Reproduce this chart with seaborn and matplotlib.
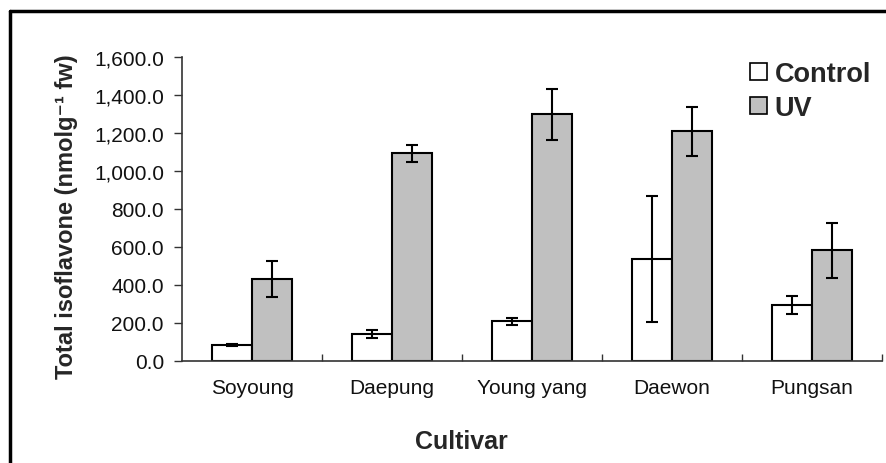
import numpy as np
import pandas as pd
import matplotlib.pyplot as plt
import seaborn as sns
from matplotlib.patches import Patch
from matplotlib.ticker import FuncFormatter, FixedLocator

# Data
cultivars = ['Soyoung', 'Daepung', 'Young yang', 'Daewon', 'Pungsan']
control_vals = [86, 142, 209, 538, 295]
control_err = [5, 19, 18, 332, 45]
uv_vals = [430, 1093, 1298, 1209, 583]
uv_err = [95, 45, 135, 128, 144]
treatments = ['Control', 'UV']
colors = ['white', '#c0c0c0']

df = pd.DataFrame({
    'Cultivar': cultivars * 2,
    'Treatment': ['Control'] * 5 + ['UV'] * 5,
    'Value': control_vals + uv_vals,
    'Err': control_err + uv_err,
})

sns.set_style('white')
plt.rcParams['font.family'] = ['Liberation Sans', 'DejaVu Sans']

fig = plt.figure(figsize=(8.87, 4.64), dpi=100)
ax = fig.add_axes([182 / 887, 1 - 362 / 464, 700 / 887, 304 / 464])

sns.barplot(data=df, x='Cultivar', y='Value', hue='Treatment', order=cultivars,
            hue_order=treatments, palette=colors, width=0.57, errorbar=None,
            edgecolor='black', linewidth=1.5, legend=False, ax=ax)

# error bars on top of each bar
for i, t in enumerate(treatments):
    cont = ax.containers[i]
    sub = df[df['Treatment'] == t].set_index('Cultivar').loc[cultivars]
    xs = [p.get_x() + p.get_width() / 2 for p in cont.patches]
    ax.errorbar(xs, sub['Value'], yerr=sub['Err'], fmt='none', ecolor='black',
                elinewidth=1.5, capsize=4, capthick=1.5)

ax.set_ylim(0, 1600)
ax.set_xlim(-0.5, 4.5)
ax.set_yticks(np.arange(0, 1601, 200))
ax.yaxis.set_major_formatter(FuncFormatter(lambda v, p: f'{v:,.1f}'))
ax.tick_params(axis='y', which='major', left=True, direction='out', length=6,
               width=1, pad=7, labelsize=15, colors='#333333', labelcolor='#111111')
ax.tick_params(axis='x', which='major', length=0, pad=12, labelsize=15, labelcolor='#111111')
ax.xaxis.set_minor_locator(FixedLocator([0.5, 1.5, 2.5, 3.5, 4.5]))
ax.tick_params(axis='x', which='minor', bottom=True, direction='in', length=5, width=1,
               colors='#333333')

for s in ['top', 'right']:
    ax.spines[s].set_visible(False)
for s in ['left', 'bottom']:
    ax.spines[s].set_color('#333333')
    ax.spines[s].set_linewidth(1.2)

ax.set_xlabel('Cultivar', fontsize=18, fontweight='bold')
ax.xaxis.set_label_coords(0.399, -0.224)
ax.set_ylabel('Total isoflavone (nmolg\u207b\u00b9 fw)', fontsize=17, fontweight='bold')
ax.yaxis.set_label_coords(-0.148, 0.477)

handles = [Patch(facecolor=c, edgecolor='black', linewidth=1.2) for c in colors]
ax.legend(handles, treatments, loc='upper right', bbox_to_anchor=(1.0, 1.022),
          frameon=False, prop={'weight': 'bold', 'size': 19.5}, handlelength=0.6,
          handleheight=0.6, handletextpad=0.3, labelspacing=0.3, borderaxespad=0)

# frame lines around the figure (left and top visible)
fig.add_artist(plt.Line2D([10 / 887, 10 / 887], [0, 1 - 12 / 464], color='black', linewidth=2.5))
fig.add_artist(plt.Line2D([10 / 887, 1], [1 - 12 / 464, 1 - 12 / 464], color='black', linewidth=2.5))

fig.savefig('out.png', dpi=100)
